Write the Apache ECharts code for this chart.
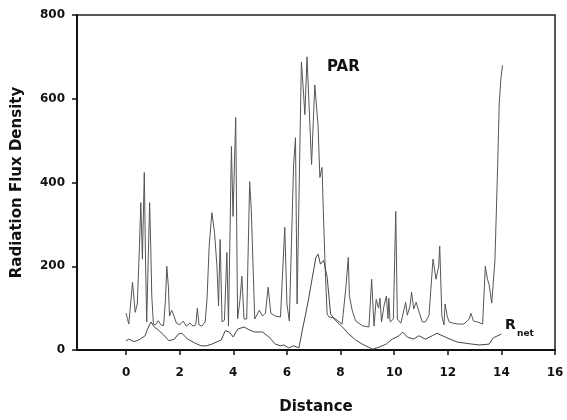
<!DOCTYPE html>
<html>
<head>
<meta charset="utf-8">
<script src="https://cdn.jsdelivr.net/npm/echarts@6/dist/echarts.min.js"></script>
<style>
  html, body { margin: 0; padding: 0; background: #fff; }
  #chart { width: 567px; height: 420px; }
</style>
</head>
<body>
<div id="chart"></div>
<script>
// PAR trace (distance, value)
const parDist = [0.0, 0.05, 0.1, 0.17, 0.24, 0.3, 0.34, 0.42, 0.5, 0.55, 0.61, 0.68, 0.73, 0.77, 0.82, 0.88, 0.92, 0.96,
  1.02, 1.1, 1.2, 1.3, 1.4, 1.47, 1.52, 1.58, 1.62, 1.7, 1.75, 1.88, 2.0, 2.13, 2.25, 2.38, 2.5, 2.6, 2.66, 2.72, 2.83, 2.95,
  3.02, 3.1, 3.2, 3.3, 3.39, 3.45, 3.51, 3.58, 3.67, 3.76, 3.82, 3.93, 3.99, 4.09, 4.16, 4.25, 4.32, 4.4, 4.5, 4.61, 4.67, 4.8, 4.97,
  5.09, 5.2, 5.3, 5.4, 5.57, 5.76, 5.92, 6.0, 6.09, 6.25, 6.32, 6.38, 6.54, 6.6, 6.67, 6.75, 6.8, 6.92,
  7.04, 7.16, 7.23, 7.31, 7.37, 7.44, 7.5, 7.57, 7.76, 7.9, 8.06, 8.2, 8.29, 8.33, 8.44, 8.57, 8.81,
  9.06, 9.16, 9.25, 9.33, 9.42, 9.47, 9.53, 9.62, 9.71, 9.77, 9.8, 9.85, 9.97, 10.06, 10.12, 10.25, 10.43, 10.49, 10.59, 10.65,
  10.73, 10.82, 10.92, 11.05, 11.17, 11.3, 11.45, 11.56, 11.66, 11.7, 11.78, 11.86, 11.9, 11.98, 12.05, 12.2, 12.4, 12.6,
  12.8, 12.86, 12.96, 13.1, 13.3, 13.4, 13.48, 13.54, 13.64, 13.69, 13.76, 13.86, 13.92, 13.98, 14.04];
const parVal = [88, 75, 62, 110, 162, 120, 90, 110, 250, 352, 217, 424, 200, 67, 200, 352, 250, 129,
  62, 60, 70, 60, 58, 120, 200, 150, 81, 95, 88, 64, 60, 69, 57, 64, 57, 60, 100, 60, 57, 67,
  121, 248, 328, 281, 200, 105, 264, 67, 71, 233, 57, 486, 319, 555, 74, 120, 176, 74, 74, 402, 336, 74, 95,
  81, 88, 150, 88, 81, 79, 293, 110, 69, 443, 507, 110, 688, 633, 562, 700, 700, 443,
  633, 538, 412, 436, 307, 174, 86, 79, 76, 70, 62, 150, 221, 130, 93, 69, 58,
  55, 169, 57, 121, 100, 124, 67, 105, 129, 75, 124, 67, 74, 331, 74, 64, 114, 83, 105, 138,
  98, 114, 93, 67, 67, 83, 217, 169, 200, 248, 81, 60, 110, 81, 67, 64, 62, 62,
  74, 88, 69, 67, 62, 200, 169, 157, 112, 110, 214, 438, 590, 646, 680];

// Rnet trace (distance, value)
const rnetDist = [0.0, 0.1, 0.3, 0.5, 0.71, 0.8, 0.93, 1.05, 1.2, 1.4, 1.6, 1.8, 1.95, 2.08, 2.3, 2.55, 2.8, 3.0, 3.2, 3.55,
  3.7, 3.85, 4.0, 4.1, 4.17, 4.4, 4.6, 4.8, 5.09, 5.33, 5.57, 5.76, 5.88, 6.07, 6.25, 6.45, 6.57, 6.7, 6.82, 6.95,
  7.08, 7.16, 7.25, 7.37, 7.5, 7.63, 7.82, 8.07, 8.31, 8.56, 8.81, 9.2, 9.45, 9.7, 9.93, 10.18, 10.32, 10.49, 10.73,
  10.92, 11.17, 11.42, 11.6, 11.97, 12.35, 12.8, 13.17, 13.54, 13.7, 13.86, 14.0];
const rnetVal = [22, 26, 20, 25, 34, 50, 67, 55, 48, 36, 22, 26, 38, 40, 26, 17, 10, 10, 14, 24,
  46, 43, 31, 43, 50, 55, 48, 43, 43, 31, 14, 10, 12, 5, 10, 5, 46, 86, 126, 174,
  221, 229, 205, 214, 174, 86, 70, 55, 38, 24, 14, 2, 7, 14, 26, 34, 43, 31, 26,
  34, 26, 34, 40, 29, 19, 15, 12, 14, 29, 34, 38];

const xTicks = [0, 2, 4, 6, 8, 10, 12, 14, 16];

const zip = (xs, ys) => xs.map((x, i) => [x, ys[i]]);
const font = '"DejaVu Sans", Arial, sans-serif';

const chart = echarts.init(document.getElementById('chart'));
chart.setOption({
  animation: false,
  grid: {
    left: 77, right: 12, top: 15, bottom: 69,
    show: true, borderColor: '#222', borderWidth: 1.5, backgroundColor: 'transparent'
  },
  xAxis: {
    type: 'value',
    min: -1.83, max: 16,
    name: 'Distance',
    nameLocation: 'middle',
    nameGap: 50,
    nameTextStyle: { fontFamily: font, fontWeight: 'bold', fontSize: 15, color: '#111' },
    axisLine: { onZero: false, lineStyle: { color: '#111', width: 2 } },
    axisTick: { customValues: xTicks, length: 5, lineStyle: { color: '#111', width: 1.5 } },
    axisLabel: { customValues: xTicks, margin: 17, fontFamily: font, fontWeight: 'bold', fontSize: 12, color: '#111' },
    splitLine: { show: false }
  },
  yAxis: {
    type: 'value',
    min: 0, max: 800, interval: 200,
    name: 'Radiation Flux Density',
    nameLocation: 'middle',
    nameGap: 52,
    nameTextStyle: { fontFamily: font, fontWeight: 'bold', fontSize: 15, color: '#111' },
    axisLine: { show: true, onZero: false, lineStyle: { color: '#111', width: 2 } },
    axisTick: { show: true, length: 5, lineStyle: { color: '#111', width: 1.5 } },
    axisLabel: { margin: 12, fontFamily: font, fontWeight: 'bold', fontSize: 12, color: '#111' },
    splitLine: { show: false }
  },
  series: [
    {
      name: 'PAR',
      type: 'line',
      symbol: 'none',
      data: zip(parDist, parVal),
      lineStyle: { color: '#555', width: 1 }
    },
    {
      name: 'Rnet',
      type: 'line',
      symbol: 'none',
      data: zip(rnetDist, rnetVal),
      lineStyle: { color: '#444', width: 1 }
    }
  ],
  graphic: [
    { type: 'text', left: 327, top: 60, style: { text: 'PAR', fontFamily: font, fontWeight: 'bold', fontSize: 15, fill: '#111' } },
    { type: 'text', left: 505, top: 318, style: { text: 'R', fontFamily: font, fontWeight: 'bold', fontSize: 14, fill: '#111' } },
    { type: 'text', left: 517, top: 329, style: { text: 'net', fontFamily: font, fontWeight: 'bold', fontSize: 9, fill: '#111' } }
  ]
});
</script>
</body>
</html>
